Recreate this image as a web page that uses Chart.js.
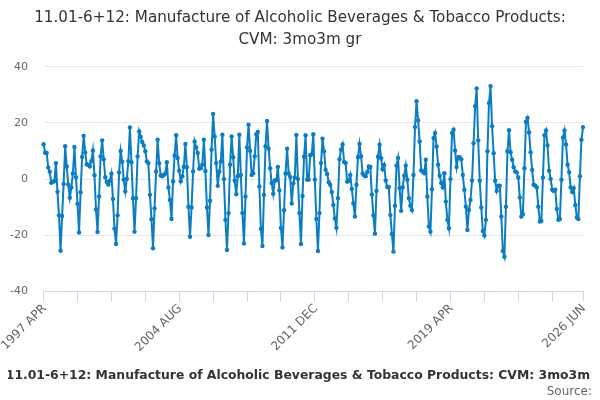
<!DOCTYPE html>
<html lang="en">
  <head>
    <meta charset="UTF-8" />
    <title>11.01-6+12: Manufacture of Alcoholic Beverages & Tobacco Products: CVM: 3mo3m gr</title>
    <script src="https://cdn.jsdelivr.net/npm/chart.js"></script>
    <style>
      html, body { margin: 0; padding: 0; background: #fff; }
      #wrap { width: 600px; height: 400px; position: relative; }
    </style>
  </head>
  <body>
    <div id="wrap"><canvas id="chart"></canvas></div>

    <script>
        // monthly series, 1997 APR .. 2026 JUN
        const startYear = 1997;
        const startMonth = 3; // April (0-based)
        const monthNames = ['JAN', 'FEB', 'MAR', 'APR', 'MAY', 'JUN', 'JUL', 'AUG', 'SEP', 'OCT', 'NOV', 'DEC'];

        const seriesName = '11.01-6+12: Manufacture of Alcoholic Beverages & Tobacco Products: CVM: 3mo3m gr';

        const values = [
            12.4, 9.4, 9.3, 4.1, 2.6, -1.3, -1.0, -0.7, 5.7, -4.5, -12.9, -25.5,
            -13.1, -1.7, 11.7, 4.5, -1.9, -6.6, -3.0, 2.0, 11.4, 0.7, -8.8, -19.0,
            -4.7, 7.9, 15.4, 9.5, 5.3, 5.0, 4.5, 6.4, 10.2, 1.4, -10.8, -18.8,
            -6.2, 8.1, 13.8, 7.1, 0.7, -1.0, -1.9, -0.6, 1.9, -7.1, -17.6, -23.1,
            -12.9, 2.4, 10.0, 6.2, -0.2, -4.3, 0.1, 6.4, 18.4, 6.0, -6.8, -18.7,
            -6.8, 8.1, 17.0, 15.1, 13.2, 12.0, 9.9, 6.3, 5.7, -5.6, -14.3, -24.6,
            -10.4, 2.7, 14.0, 5.7, 1.3, 1.0, 1.5, 2.0, 6.0, -3.0, -7.4, -14.2,
            -0.8, 8.4, 15.6, 7.5, 3.0, -0.8, 1.0, 4.4, 12.5, 4.2, -9.8, -20.5,
            -10.1, 2.7, 13.4, 11.3, 9.3, 3.7, 3.9, 5.1, 14.0, 2.9, -10.1, -19.9,
            -7.7, 10.5, 23.2, 15.2, 5.7, -2.4, 2.7, 6.3, 15.8, 0.0, -14.5, -25.2,
            -12.1, 5.1, 15.2, 7.8, -0.6, -5.4, 1.0, 15.8, 1.5, -12.1, -22.9, -6.2,
            11.3, 19.4, 10.1, 1.5, 2.1, 8.1, 16.0, 16.8, -2.6, -17.7, -23.8, -5.6,
            11.7, 20.7, 10.8, 3.9, -1.4, -5.2, -0.5, -0.4, 4.3, -4.0, -17.4, -24.3,
            -11.1, 2.0, 10.8, 2.0, 0.8, -8.7, -1.5, 0.6, 15.7, 0.1, -12.1, -23.1,
            -6.0, 8.0, 15.6, -0.2, -0.2, 8.5, 8.8, 16.0, -0.2, -14.2, -25.6, -12.1,
            5.7, 14.4, 9.9, 3.3, 1.8, -1.1, -2.0, -4.6, -9.2, -14.0, -17.3, -6.8,
            7.1, 10.5, 12.3, 6.1, 5.7, -0.9, -0.6, 1.5, -3.5, -8.6, -13.3, -2.0,
            7.8, 12.5, 8.1, 2.0, 1.3, 1.0, 2.5, 4.5, 4.3, -5.5, -12.9, -19.4,
            -4.2, 8.0, 12.2, 7.4, 3.5, 5.0, -0.5, -2.8, -2.8, -12.8, -19.5, -25.8,
            -9.5, 4.8, 7.5, -3.2, -11.3, -2.9, 1.2, 4.8, -0.2, -6.8, -9.5, -11.0,
            1.5, 18.5, 27.7, 20.9, 13.4, 3.1, 2.7, 2.1, 6.9, -6.2, -16.9, -18.7,
            -3.6, 14.6, 16.4, 11.6, 5.1, 1.2, -1.4, -2.9, 2.1, -8.0, -14.5, -17.5,
            0.0, 16.4, 17.6, 10.2, 4.3, 7.8, 7.8, 7.1, 1.5, -3.8, -9.8, -18.1,
            -11.0, -7.4, -0.5, 12.8, 25.9, 32.3, 13.8, -0.6, -10.1, -18.5, -20.1, -14.5,
            9.9, 27.1, 33.1, 18.8, 9.2, -0.6, -4.2, -2.3, -2.3, -13.3, -25.6, -27.6,
            -9.8, 9.9, 17.4, 9.6, 6.9, 4.2, 2.7, 2.4, 0.6, -6.5, -13.3, -12.5,
            3.9, 20.4, 21.8, 16.6, 9.6, 3.3, -2.0, -2.3, -3.0, -9.8, -15.1, -14.9,
            0.6, 15.6, 17.3, 12.0, 3.0, 0.1, -3.8, -4.2, -3.8, -10.6, -14.5, -14.2,
            -0.2, 14.8, 17.3, 12.3, 5.1, 2.5, -3.0, -4.6, -3.2, -9.2, -13.7, -14.2,
            1.0, 14.0, 18.5
        ];

        // labelled ticks on the time axis
        const tickLabels = ['1997 APR', '2004 AUG', '2011 DEC', '2019 APR', '2026 JUN'];
        const tickStep = 22; // small tick marks every 22 months

        const months = values.map((v, i) => {
            const m = startMonth + i;
            return (startYear + Math.floor(m / 12)) + ' ' + monthNames[m % 12];
        });

        const lastIndex = months.length - 1;
        const labelledIdx = tickLabels.map(t => months.indexOf(t));

        function isMarked(i) {
            return i % tickStep === 0 || i === lastIndex;
        }

        const ctx = document.getElementById('chart').getContext('2d');
        new Chart(ctx, {
            type: 'line',
            data: {
                labels: months,
                datasets: [{
                    label: seriesName,
                    data: values,
                    yAxisID: 'y',
                    borderColor: '#0b7dc3',
                    backgroundColor: '#0b7dc3',
                    borderWidth: 2,
                    pointRadius: 2.2,
                    pointBorderWidth: 0,
                    pointHoverRadius: 3,
                    tension: 0
                }]
            },
            options: {
                responsive: true,
                maintainAspectRatio: false,
                animation: false,
                layout: {
                    padding: { left: 8, right: 8, top: 0, bottom: 0 }
                },
                plugins: {
                    title: {
                        display: true,
                        text: ['11.01-6+12: Manufacture of Alcoholic Beverages & Tobacco Products:', 'CVM: 3mo3m gr'],
                        color: '#333333',
                        font: { family: 'DejaVu Sans', size: 15.2, weight: 'normal', lineHeight: 1.447 },
                        padding: { top: 7, bottom: 15.7 }
                    },
                    subtitle: {
                        display: true,
                        position: 'bottom',
                        align: 'end',
                        text: 'Source:',
                        color: '#666666',
                        font: { family: 'DejaVu Sans', size: 12, weight: 'normal' },
                        padding: { top: -6.7, bottom: 0.8 }
                    },
                    legend: {
                        position: 'bottom',
                        align: 'center',
                        labels: {
                            color: '#333333',
                            font: { family: 'DejaVu Sans', size: 12.4, weight: 'bold' },
                            usePointStyle: true,
                            pointStyle: 'line',
                            pointStyleWidth: 9,
                            padding: 14.5
                        }
                    },
                    tooltip: { enabled: false }
                },
                scales: {
                    x: {
                        type: 'category',
                        offset: false,
                        border: { display: true, color: '#ccd6eb', width: 1 },
                        grid: {
                            drawOnChartArea: false,
                            drawTicks: true,
                            tickLength: 10,
                            color: (c) => isMarked(c.index) ? '#ccd6eb' : 'rgba(0,0,0,0)'
                        },
                        ticks: {
                            autoSkip: false,
                            maxRotation: 45,
                            minRotation: 45,
                            padding: 0,
                            labelOffset: 1,
                            color: '#666666',
                            font: { family: 'DejaVu Sans', size: 12 },
                            callback: function (value, index) {
                                const k = labelledIdx.indexOf(index);
                                return k >= 0 ? tickLabels[k] : '';
                            }
                        },
                        afterFit: function (scale) {
                            // rotated labels may hang past the plot edges, as in the original
                            scale.paddingLeft = 0;
                            scale.paddingRight = 0;
                        }
                    },
                    y: {
                        min: -40,
                        max: 40,
                        border: { display: false },
                        grid: { color: '#e6e6e6', drawTicks: false },
                        ticks: {
                            stepSize: 20,
                            padding: 15.6,
                            color: '#666666',
                            font: { family: 'DejaVu Sans', size: 11 }
                        },
                        afterFit: function (scale) {
                            scale.width = 35.6;
                        }
                    },
                    // empty right-hand strip so the plot ends short of the edge
                    yRight: {
                        position: 'right',
                        display: true,
                        grid: { display: false },
                        border: { display: false },
                        ticks: { display: false },
                        afterFit: function (scale) {
                            scale.width = 9;
                        }
                    }
                }
            }
        });
    </script>
  </body>
</html>
